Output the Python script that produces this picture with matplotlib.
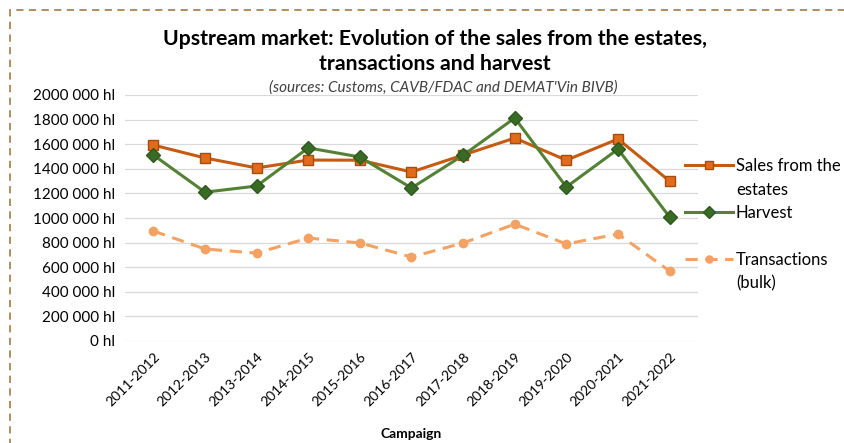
import matplotlib.pyplot as plt
from matplotlib.patches import Rectangle
from matplotlib.lines import Line2D

plt.rcParams['font.family'] = ['Lato', 'DejaVu Sans']

campaigns = ['2011-2012', '2012-2013', '2013-2014', '2014-2015', '2015-2016', '2016-2017',
             '2017-2018', '2018-2019', '2019-2020', '2020-2021', '2021-2022']
sales = [1593000, 1488000, 1407000, 1471000, 1470000, 1374000,
         1512000, 1650000, 1470000, 1642000, 1300000]
harvest = [1512000, 1210000, 1260000, 1570000, 1496000, 1244000,
           1510000, 1813000, 1252000, 1560000, 1008000]
transactions = [894000, 748000, 715000, 837000, 797000, 683000,
                797000, 950000, 789000, 870000, 569000]
yticks = list(range(0, 2000001, 200000))


def hl(v):
    # "2000 000 hl" style, as on the source chart
    if v >= 1000:
        return f"{v // 1000} {v % 1000:03d} hl"
    return f"{v} hl"


fig = plt.figure(figsize=(8.45, 4.43), dpi=100)
ax = fig.add_axes([125 / 845, 1 - 341 / 443, 573 / 845, 246 / 443])

x = range(len(campaigns))
l_sales, = ax.plot(x, sales, color='#C55A11', lw=2.2, marker='s', ms=7,
                   mfc='#E06C1A', mec='#A84B0E', zorder=3)
l_harv, = ax.plot(x, harvest, color='#548235', lw=2.2, marker='D', ms=7,
                  mfc='#3A6B25', mec='#2F5A1D', zorder=4)
l_trans, = ax.plot(x, transactions, color='#F4A263', lw=2.2, ls=(0, (4, 2.5)), marker='o', ms=6,
                   mfc='#F4A263', mec='#F4A263', zorder=2)

ax.set_xlim(-0.55, len(campaigns) - 1 + 0.55)
ax.set_ylim(0, 2000000)
ax.set_yticks(yticks)
ax.set_yticklabels([hl(v) for v in yticks], fontsize=11)
ax.set_xticks(list(x))
ax.set_xticklabels(campaigns, rotation=45, ha='right', rotation_mode='anchor', fontsize=10)
ax.tick_params(length=0, pad=7)
ax.grid(axis='y', color='#d9d9d9', lw=0.9)
ax.set_axisbelow(True)
for s in ax.spines.values():
    s.set_visible(False)
ax.set_xlabel('Campaign', fontsize=10, fontweight='bold', labelpad=14)

# legend: handle sits on the first line of each label, like Excel does
blank = Line2D([], [], color='none')
handles = [l_sales, blank, l_harv, blank, l_trans, blank]
labels = ['Sales from the', 'estates', 'Harvest', ' ', 'Transactions', '(bulk)']
ax.legend(handles, labels, loc='center left', bbox_to_anchor=(685 / 845, 1 - 225 / 443),
          bbox_transform=fig.transFigure, frameon=False, borderpad=0, borderaxespad=0,
          fontsize=12, handlelength=2.9, handletextpad=0.15, labelspacing=0.45,
          markerscale=0.85)

fig.text(435 / 845, 1 - 39 / 443, 'Upstream market: Evolution of the sales from the estates,',
         ha='center', va='center', fontsize=15.3, fontweight='bold')
fig.text(435 / 845, 1 - 64 / 443, 'transactions and harvest',
         ha='center', va='center', fontsize=15.3, fontweight='bold')
fig.text(443 / 845, 1 - 88 / 443, '(sources: Customs, CAVB/FDAC and DEMAT\'Vin BIVB)',
         ha='center', va='center', fontsize=11, style='italic', color='#404040')

fig.patches.append(Rectangle((10 / 845, -0.05), 1.05, 1 - 10 / 443 + 0.05, transform=fig.transFigure,
                             fill=False, ec='#A98552', lw=1.3, ls=(0, (4, 3)), clip_on=False))

fig.savefig('out.png', dpi=100)
